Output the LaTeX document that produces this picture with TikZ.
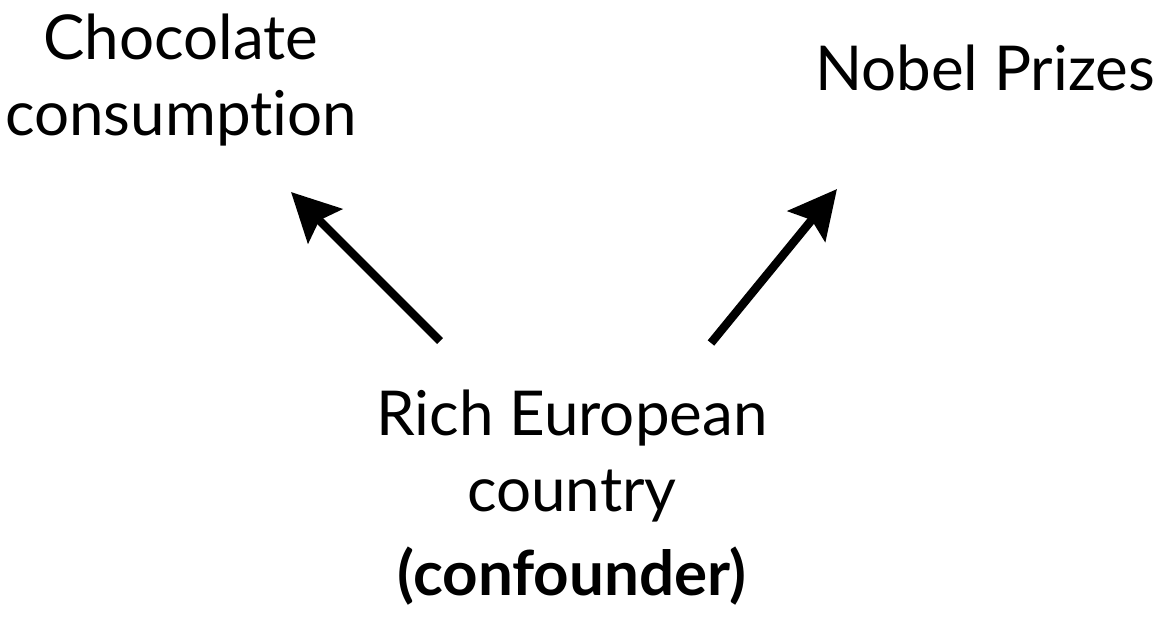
\documentclass[tikz,border=0pt]{standalone}
\usepackage{fontspec}
\setmainfont[Ligatures=NoCommon]{Lato}
\usepackage{tikz}
\usetikzlibrary{arrows.meta}

\begin{document}
\begin{tikzpicture}[x=0.01cm,y=-0.01cm]
	\useasboundingbox (0,0) rectangle (1172,617);
	
	\tikzstyle{names}=[align=center,inner sep=0pt,font=\fontsize{17.6}{21.5}\selectfont]
	\tikzstyle{causal}=[line width=2.4pt,-{Stealth[length=0.48cm,width=0.48cm,inset=0.08cm]}]
	
	%Effects
	\node[names] (choc) at (181,80) {Chocolate\\consumption};
	\node[names] (nobel) at (985,68) {Nobel Prizes};
	
	%Cause
	\node[names] (rich) at (572,456) {Rich European\\country};
	\node[names,font=\fontsize{17.6}{21.5}\selectfont\bfseries] (conf) at (572,576) {(confounder)};
	
	%Arrow ends
	\coordinate (l-tail) at (440,341);
	\coordinate (l-tip) at (291,192);
	\coordinate (r-tail) at (711,343);
	\coordinate (r-tip) at (837,189);
	
	%Links
	\foreach \from/\to in {l-tail/l-tip, r-tail/r-tip}
	\draw [causal] (\from) -- (\to);
\end{tikzpicture}
\end{document}
